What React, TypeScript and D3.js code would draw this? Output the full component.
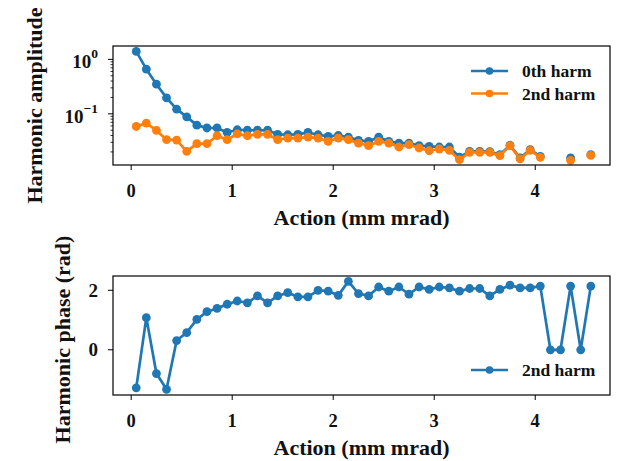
import React from "react";
import * as d3 from "d3";

// Action bins (mm mrad)
const action = [
  0.05, 0.15, 0.25, 0.35, 0.45, 0.55, 0.65, 0.75, 0.85, 0.95,
  1.05, 1.15, 1.25, 1.35, 1.45, 1.55, 1.65, 1.75, 1.85, 1.95,
  2.05, 2.15, 2.25, 2.35, 2.45, 2.55, 2.65, 2.75, 2.85, 2.95,
  3.05, 3.15, 3.25, 3.35, 3.45, 3.55, 3.65, 3.75, 3.85, 3.95,
  4.05, 4.15, 4.25, 4.35, 4.45, 4.55,
];

// Harmonic amplitudes (0 = empty bin, masked on the log axis)
const amp0th = [
  1.4, 0.66, 0.35, 0.196, 0.122, 0.088, 0.062, 0.055, 0.055, 0.0455,
  0.051, 0.05, 0.05, 0.05, 0.042, 0.0413, 0.042, 0.0455, 0.0413, 0.0385,
  0.04, 0.0375, 0.0325, 0.0312, 0.0375, 0.0312, 0.0291, 0.0291, 0.026, 0.0252,
  0.0246, 0.0246, 0.016, 0.0205, 0.0205, 0.0203, 0.0178, 0.0265, 0.0155, 0.022,
  0.0165, 0, 0, 0.0155, 0, 0.0178,
];
const amp2nd = [
  0.0586, 0.0676, 0.0495, 0.0335, 0.033, 0.0205, 0.0283, 0.0283, 0.0396, 0.0335,
  0.043, 0.0396, 0.042, 0.042, 0.0335, 0.0359, 0.0359, 0.0375, 0.0359, 0.0312,
  0.0359, 0.0335, 0.0291, 0.026, 0.0312, 0.0291, 0.0246, 0.0271, 0.0236, 0.021,
  0.0226, 0.0213, 0.0144, 0.0196, 0.0196, 0.0196, 0.0171, 0.026, 0.0149, 0.0213,
  0.0159, 0, 0, 0.014, 0, 0.0173,
];

// 2nd harmonic phase (rad)
const phase2nd = [
  -1.28, 1.08, -0.8, -1.33, 0.31, 0.58, 1.02, 1.28, 1.39, 1.53,
  1.64, 1.58, 1.81, 1.58, 1.81, 1.92, 1.78, 1.78, 2.0, 1.97,
  1.83, 2.3, 1.89, 1.81, 2.11, 1.97, 2.11, 1.87, 2.11, 2.03,
  2.11, 2.08, 1.97, 2.06, 2.06, 1.81, 2.03, 2.17, 2.08, 2.08,
  2.14, 0, 0, 2.14, 0, 2.14,
];

const xTicks = [0, 1, 2, 3, 4];
const ampMajorTicks = [1, 0.1];
const ampTickExp = ["0", "\u22121"];
const ampMinorTicks = [0.9, 0.8, 0.7, 0.6, 0.5, 0.4, 0.3, 0.2, 0.09, 0.08, 0.07, 0.06, 0.05, 0.04, 0.03, 0.02];
const phaseTicks = [0, 2];

const BLUE = "#1f77b4";
const ORANGE = "#ff7f0e";
const FONT = "'Liberation Serif', 'Times New Roman', serif";
const INK = "#111";

const W = 623;
const H = 461;
const left = 113;
const right = 610;
const top1 = 46;
const bot1 = 165;
const top2 = 276;
const bot2 = 395;

const x = d3.scaleLinear().domain([-0.18, 4.74]).range([left, right]);
const yAmp = d3.scaleLog().domain([0.0115, 1.76]).range([bot1, top1]);
const yPh = d3.scaleLinear().domain([-1.52, 2.48]).range([bot2, top2]);

type Pt = [number, number];

function Series({ pts, y, color, masked }: { pts: Pt[]; y: (v: number) => number; color: string; masked?: boolean }) {
  const line = d3
    .line<Pt>()
    .defined((d) => (masked ? d[1] > 0 : true))
    .x((d) => x(d[0]))
    .y((d) => y(d[1]));
  const shown = pts.filter((d) => (masked ? d[1] > 0 : true));
  return (
    <g>
      <path d={line(pts) || ""} fill="none" stroke={color} strokeWidth={2.7} strokeLinejoin="round" />
      {shown.map((d, i) => (
        <circle key={i} cx={x(d[0])} cy={y(d[1])} r={4.4} fill={color} />
      ))}
    </g>
  );
}

function LegendEntry({ lx, ly, color, label }: { lx: number; ly: number; color: string; label: string }) {
  return (
    <g>
      <line x1={lx} x2={lx + 37} y1={ly} y2={ly} stroke={color} strokeWidth={2.7} />
      <circle cx={lx + 18.5} cy={ly} r={3.8} fill={color} />
      <text x={lx + 51} y={ly + 6} fontSize={17.5} fontWeight="bold" fontFamily={FONT} fill={INK}>
        {label}
      </text>
    </g>
  );
}

function XAxis({ yb }: { yb: number }) {
  return (
    <g>
      {xTicks.map((t) => (
        <g key={t}>
          <line x1={x(t)} x2={x(t)} y1={yb} y2={yb + 5} stroke="#000" strokeWidth={1} />
          <text x={x(t)} y={yb + 31.5} textAnchor="middle" fontSize={18.5} fontWeight="bold" fontFamily={FONT} fill={INK}>
            {t}
          </text>
        </g>
      ))}
      <text x={(left + right) / 2} y={yb + 60} textAnchor="middle" fontSize={22} fontWeight="bold" fontFamily={FONT} fill={INK}>
        Action (mm mrad)
      </text>
    </g>
  );
}

export default function App() {
  const p0: Pt[] = action.map((a, i) => [a, amp0th[i]]);
  const p2: Pt[] = action.map((a, i) => [a, amp2nd[i]]);
  const ph: Pt[] = action.map((a, i) => [a, phase2nd[i]]);

  return (
    <svg width={W} height={H} style={{ position: "absolute", left: 0, top: 0, background: "#fff" }}>
      <rect width={W} height={H} fill="#fff" />

      {/* amplitude panel */}
      <Series pts={p0} y={yAmp} color={BLUE} masked />
      <Series pts={p2} y={yAmp} color={ORANGE} masked />
      <rect x={left} y={top1} width={right - left} height={bot1 - top1} fill="none" stroke="#000" strokeWidth={1.2} />
      {ampMinorTicks.map((t) => (
        <line key={t} x1={left - 2.5} x2={left} y1={yAmp(t)} y2={yAmp(t)} stroke="#000" strokeWidth={0.8} />
      ))}
      {ampMajorTicks.map((t, i) => (
        <g key={t}>
          <line x1={left - 5} x2={left} y1={yAmp(t)} y2={yAmp(t)} stroke="#000" strokeWidth={1} />
          <text x={98} y={yAmp(t) + 9} textAnchor="end" fontWeight="bold" fontFamily={FONT} fill={INK}>
            <tspan fontSize={19}>10</tspan>
            <tspan fontSize={13.5} dy={-10}>{ampTickExp[i]}</tspan>
          </text>
        </g>
      ))}
      <XAxis yb={bot1} />
      <text
        transform={`translate(42,${(top1 + bot1) / 2}) rotate(-90)`}
        textAnchor="middle"
        fontSize={22}
        fontWeight="bold"
        fontFamily={FONT}
        fill={INK}
      >
        Harmonic amplitude
      </text>
      <LegendEntry lx={471} ly={71} color={BLUE} label="0th harm" />
      <LegendEntry lx={471} ly={93.5} color={ORANGE} label="2nd harm" />

      {/* phase panel */}
      <Series pts={ph} y={yPh} color={BLUE} />
      <rect x={left} y={top2} width={right - left} height={bot2 - top2} fill="none" stroke="#000" strokeWidth={1.2} />
      {phaseTicks.map((t) => (
        <g key={t}>
          <line x1={left - 5} x2={left} y1={yPh(t)} y2={yPh(t)} stroke="#000" strokeWidth={1} />
          <text x={98} y={yPh(t) + 6.5} textAnchor="end" fontSize={19} fontWeight="bold" fontFamily={FONT} fill={INK}>
            {t}
          </text>
        </g>
      ))}
      <XAxis yb={bot2} />
      <text
        transform={`translate(70,${(top2 + bot2) / 2 + 4}) rotate(-90)`}
        textAnchor="middle"
        fontSize={22}
        fontWeight="bold"
        fontFamily={FONT}
        fill={INK}
      >
        Harmonic phase (rad)
      </text>
      <LegendEntry lx={471} ly={370} color={BLUE} label="2nd harm" />
    </svg>
  );
}
